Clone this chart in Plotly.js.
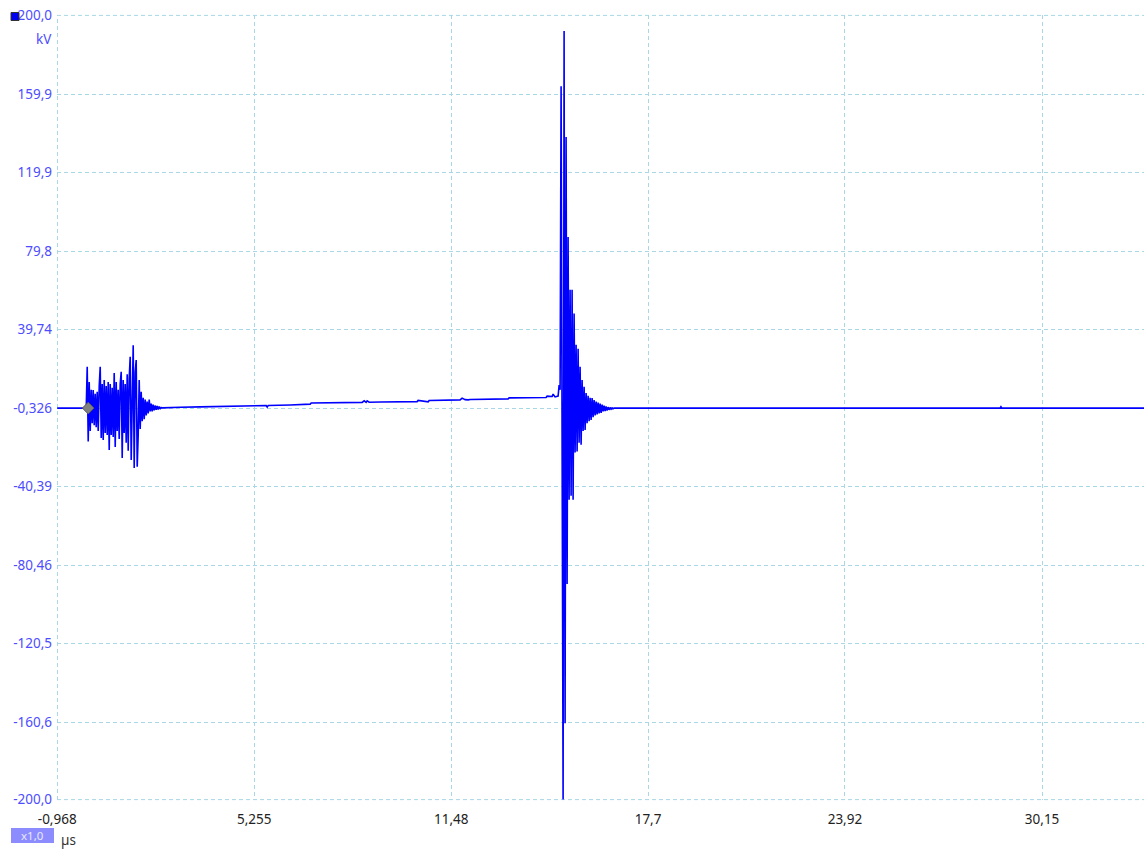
<!DOCTYPE html>
<html>
<head>
<meta charset="utf-8">
<script src="https://cdn.plot.ly/plotly-3.0.1.min.js"></script>
<style>html,body{margin:0;padding:0;background:#fff;}#chart{width:1144px;height:849px;}</style>
</head>
<body>
<div id="chart"></div>
<script>
// ---- axis ticks ----
const xTickVals = [-0.968, 5.255, 11.48, 17.7, 23.92, 30.15];
const xTickText = ["-0,968", "5,255", "11,48", "17,7", "23,92", "30,15"];
const yTickVals = [200, 159.9, 119.9, 79.8, 39.74, -0.326, -40.39, -80.46, -120.5, -160.6, -200];
const yTickText = ["200,0", "159,9", "119,9", "79,8", "39,74", "-0,326", "-40,39", "-80,46", "-120,5", "-160,6", "-200,0"];

// ---- waveform (time in µs, voltage in kV) ----
const sampleStep = 0.031589; // scope sample interval, µs

// quiet baseline before the first burst
const preTime = [-0.968, -0.5, -0.083];
const preVolt = [-0.3, -0.3, -0.3];

// first burst, sampled every sampleStep starting at burst1Start
const burst1Start = -0.052;
const burst1Volt = [
  -0.3, 20.8, -17.4, 13, -12, 9, -8, 8.9, -9, 7,
  -10, 8, -12, 11, 20.8, -15.5, 12, -16.6, 14, -13,
  11, -14, 13, -21.7, 12, -14, 10, -15, 17.6, -20.1,
  13, -12, 9, -16, 12, 18.2, -25.7, 14, -13, 12,
  -18, 17, -22, 15, 25.9, -26.8, 20, 31.8, -30.8, 18,
  24.2, -30.2, -14, 14, -11, 8, -7, 5, -6, 4,
  -4, 3, -3, 4, -2, 2, -2, 1.5, -1.5, 1,
  -1.2, 0.8, -1, 0.5, -0.8, 0, -0.2
];

// slow drift between the bursts
const driftTime = [2.444, 2.918, 3.549, 4.497, 5.129, 5.634, 5.666, 5.698, 6.392, 7.024,
  7.056, 7.972, 8.667, 8.730, 8.793, 8.825, 8.888, 9.235, 10.404, 10.436,
  10.752, 10.784, 11.762, 11.825, 11.920, 12.015, 12.078, 13.279, 13.311, 14.479,
  14.511, 14.669, 14.700, 14.763, 14.826];
const driftVolt = [-0.1, 0.1, 0.3, 0.6, 0.9, 1.0, 0.2, 1.0, 1.3, 1.7,
  2.3, 2.4, 2.6, 3.4, 2.6, 3.4, 2.7, 2.8, 3.0, 3.6,
  2.9, 3.6, 3.9, 4.8, 4.0, 3.9, 4.1, 4.4, 4.9, 5.1,
  5.8, 5.6, 6.8, 5.4, 5.5];

// main discharge burst, sampled every sampleStep starting at burst2Start
const burst2Start = 14.858;
const burst2Volt = [
  5.8, 11.5, 9, 163.8, -120, -200, 192, -161, 138, -90,
  87, -47, 60, -45, 60, -47, 48, -23, 32, -22.5,
  30, -18, 20.8, -19, 14, -12, 10.6, -11.5, 7.4, -8,
  6, -7, 5, -6.4, 4.8, -5, 3.8, -4, 3, -3.5,
  2.5, -3, 2, -2.8, 1.5, -2, 1, -1.8, 0.6, -1.5,
  0.2, -1.2, 0, -0.8, -0.2, -0.6, -0.3
];

// flat tail
const tailTime = [16.658, 28.82, 28.85, 28.88, 33.37];
const tailVolt = [-0.3, -0.3, 0.4, -0.3, -0.3];

// trigger marker
const trigTime = [0.011];
const trigVolt = [-0.3];

// ---- assemble ----
const xs = [], ys = [];
preTime.forEach((t, i) => { xs.push(t); ys.push(preVolt[i]); });
burst1Volt.forEach((v, i) => { xs.push(burst1Start + i * sampleStep); ys.push(v); });
driftTime.forEach((t, i) => { xs.push(t); ys.push(driftVolt[i]); });
burst2Volt.forEach((v, i) => { xs.push(burst2Start + i * sampleStep); ys.push(v); });
tailTime.forEach((t, i) => { xs.push(t); ys.push(tailVolt[i]); });

const FONT = "Noto Sans, Open Sans, DejaVu Sans, sans-serif";
const labelBlue = "#4d4dff";
const gridCol = "#a9d7e6";
const gridDash = "4px,3px";

// paper helpers (plot area 1087 x 785, origin at px 57 / 800)
const px = p => (p - 57) / 1087;
const py = p => (800 - p) / 785;

const data = [
  {
    x: xs, y: ys, type: "scatter", mode: "lines",
    line: { color: "#0000ff", width: 1.6 },
    hoverinfo: "x+y"
  },
  {
    x: trigTime, y: trigVolt, type: "scatter", mode: "markers",
    marker: { symbol: "diamond", size: 9, color: "#808080", line: { color: "#5a5a5a", width: 1 } },
    hoverinfo: "skip"
  }
];

const edge = (x0, y0, x1, y1) => ({
  type: "line", xref: "paper", yref: "paper", x0, y0, x1, y1,
  line: { color: gridCol, width: 1, dash: gridDash }, layer: "below"
});

const layout = {
  width: 1144, height: 849,
  margin: { l: 57, r: 0, t: 15, b: 49, pad: 0 },
  paper_bgcolor: "#ffffff", plot_bgcolor: "#ffffff",
  showlegend: false,
  font: { family: FONT, size: 13 },
  xaxis: {
    range: [-0.975, 33.37],
    tickmode: "array", tickvals: xTickVals, ticktext: xTickText,
    showgrid: true, gridcolor: gridCol, gridwidth: 1, griddash: gridDash,
    zeroline: false, showline: false, ticks: "",
    ticklabelstandoff: 9,
    tickfont: { family: FONT, size: 13.5, color: "#222222" },
    fixedrange: true
  },
  yaxis: {
    range: [-200.2, 200.2],
    tickmode: "array", tickvals: yTickVals, ticktext: yTickText,
    showgrid: true, gridcolor: gridCol, gridwidth: 1, griddash: gridDash,
    zeroline: false, showline: false, ticks: "",
    ticklabelstandoff: 4,
    tickfont: { family: FONT, size: 13.5, color: labelBlue },
    fixedrange: true
  },
  shapes: [
    edge(0.0005, 0, 0.0005, 1),
    edge(0, 0.9995, 1, 0.9995),
    edge(0, 0.0005, 1, 0.0005),
    { type: "rect", xref: "paper", yref: "paper",
      x0: px(11), x1: px(19), y0: py(20.5), y1: py(12.5),
      fillcolor: "#0000ee", line: { color: "#333333", width: 1 }, layer: "above" },
    { type: "rect", xref: "paper", yref: "paper",
      x0: px(11), x1: px(54), y0: py(843), y1: py(828),
      fillcolor: "#8c8cff", line: { width: 0 }, layer: "above" }
  ],
  annotations: [
    { text: "kV", xref: "paper", yref: "paper", x: px(53.5), y: py(39),
      xanchor: "right", yanchor: "middle", showarrow: false,
      font: { family: FONT, size: 13.5, color: labelBlue } },
    { text: "x1,0", xref: "paper", yref: "paper", x: px(32.5), y: py(835.5),
      xanchor: "center", yanchor: "middle", showarrow: false,
      font: { family: FONT, size: 11.5, color: "#e8e8ff" } },
    { text: "µs", xref: "paper", yref: "paper", x: px(59), y: py(840),
      xanchor: "left", yanchor: "middle", showarrow: false,
      font: { family: FONT, size: 13.5, color: "#333333" } }
  ]
};

Plotly.newPlot("chart", data, layout, { displayModeBar: false, staticPlot: true });
</script>
</body>
</html>
